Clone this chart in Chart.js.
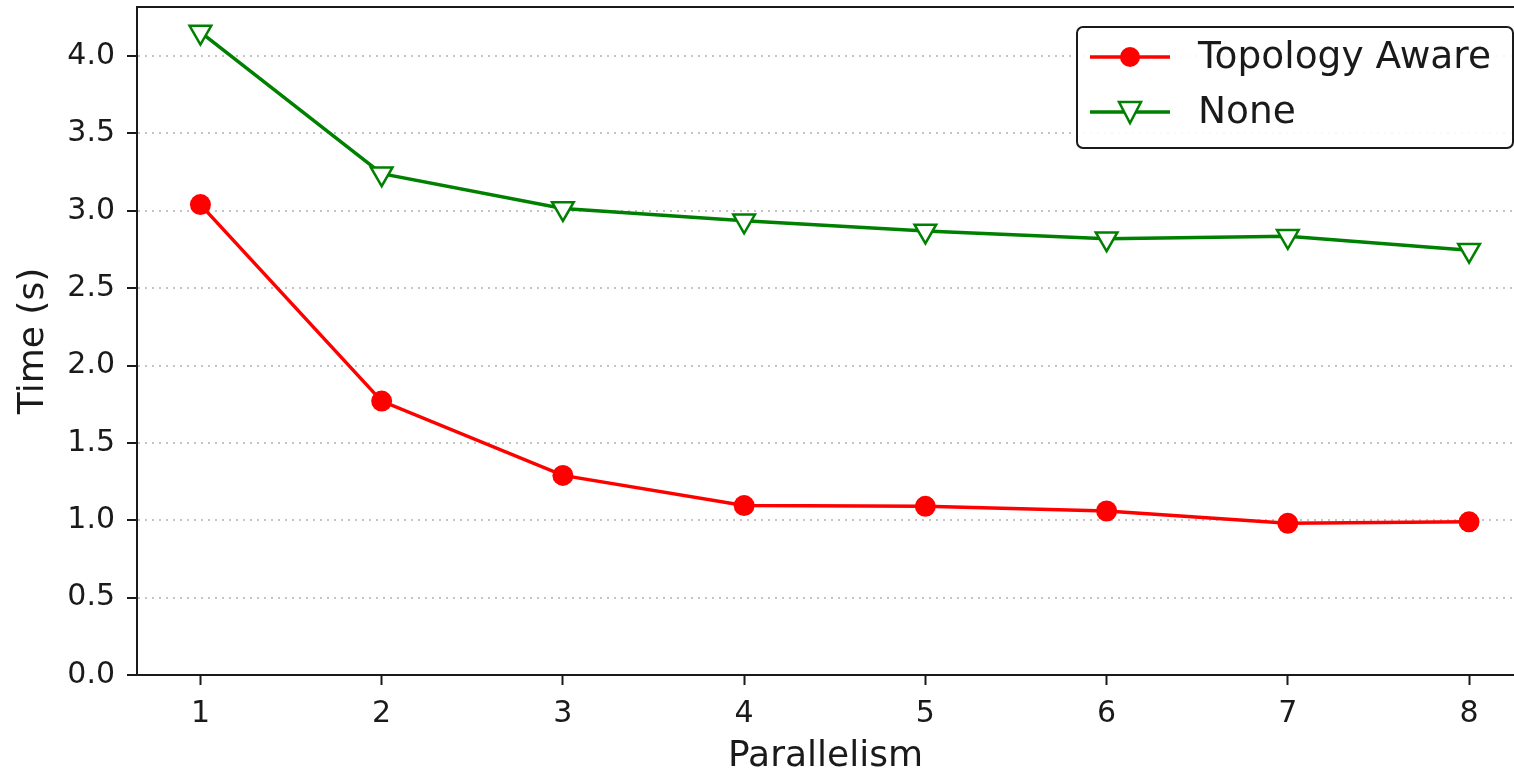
<!DOCTYPE html>
<html>
<head>
<meta charset="utf-8">
<script src="https://cdn.jsdelivr.net/npm/chart.js@4"></script>
<style>
  html, body { margin: 0; padding: 0; background: #fff; overflow: hidden; }
  #wrap { width: 1514px; height: 773px; }
</style>
</head>
<body>
<div id="wrap"><canvas id="chart" width="1514" height="773"></canvas></div>
<script>
// data
const parallelism = [1, 2, 3, 4, 5, 6, 7, 8];
const topologyAware = [3.04, 1.77, 1.29, 1.095, 1.09, 1.06, 0.98, 0.99];
const noneTimes = [4.155, 3.24, 3.015, 2.935, 2.87, 2.82, 2.835, 2.745];
const yTicks = [0, 0.5, 1, 1.5, 2, 2.5, 3, 3.5, 4];

const FONT = "'DejaVu Sans', sans-serif";
const INK = "#1a1a1a";

function points(ys) {
  return parallelism.map((x, i) => ({ x: x, y: ys[i] }));
}

// the axes should not reserve room for half labels at the ends
function noEndPadding(axis) {
  axis.paddingTop = 0;
  axis.paddingBottom = 0;
  axis.paddingLeft = 0;
  axis.paddingRight = 0;
}

// matplotlib style legend box
const legendBox = {
  id: "legendBox",
  afterDraw(chart) {
    const c = chart.ctx;
    c.save();
    const x = 1077, y = 27, w = 436, h = 121, r = 6;
    c.beginPath();
    c.roundRect(x, y, w, h, r);
    c.fillStyle = "rgba(255,255,255,0.9)";
    c.fill();
    c.lineWidth = 2;
    c.strokeStyle = INK;
    c.stroke();

    const rows = [
      { y: 57, color: "#ff0000", label: "Topology Aware", marker: "circle" },
      { y: 112, color: "#008000", label: "None", marker: "tri" }
    ];
    rows.forEach(row => {
      c.beginPath();
      c.moveTo(1090, row.y);
      c.lineTo(1170, row.y);
      c.lineWidth = 3.5;
      c.strokeStyle = row.color;
      c.stroke();
      if (row.marker === "circle") {
        c.beginPath();
        c.arc(1130, row.y, 10, 0, Math.PI * 2);
        c.fillStyle = row.color;
        c.fill();
      } else {
        c.beginPath();
        c.moveTo(1119, row.y - 10);
        c.lineTo(1141, row.y - 10);
        c.lineTo(1130, row.y + 11);
        c.closePath();
        c.fillStyle = "#fff";
        c.fill();
        c.lineWidth = 2.5;
        c.strokeStyle = row.color;
        c.stroke();
      }
      c.fillStyle = INK;
      c.font = "37.5px " + FONT;
      c.textBaseline = "middle";
      c.fillText(row.label, 1198, row.y + 1);
    });
    c.restore();
  }
};

new Chart(document.getElementById("chart"), {
  type: "line",
  data: {
    datasets: [
      {
        label: "Topology Aware",
        data: points(topologyAware),
        borderColor: "#ff0000",
        backgroundColor: "#ff0000",
        borderWidth: 3.5,
        pointStyle: "circle",
        pointRadius: 10.5,
        pointHoverRadius: 10.5,
        pointBorderWidth: 0,
        tension: 0
      },
      {
        label: "None",
        data: points(noneTimes),
        borderColor: "#008000",
        backgroundColor: "#ffffff",
        borderWidth: 3.5,
        pointStyle: "triangle",
        pointRotation: 180,
        pointRadius: 12.5,
        pointHoverRadius: 12.5,
        pointBorderWidth: 2.5,
        tension: 0
      }
    ]
  },
  options: {
    responsive: false,
    animation: false,
    layout: {
      autoPadding: false,
      padding: { top: 7, right: 0, left: 0, bottom: 0 }
    },
    plugins: {
      legend: { display: false },
      tooltip: { enabled: false }
    },
    scales: {
      x: {
        type: "linear",
        min: 0.65,
        max: 8.248,
        afterBuildTicks(axis) {
          axis.ticks = parallelism.map(v => ({ value: v }));
        },
        afterFit(axis) { axis.height = 98; noEndPadding(axis); },
        grid: {
          drawOnChartArea: false,
          tickLength: 10,
          tickColor: INK,
          tickWidth: 2
        },
        border: { color: INK, width: 2 },
        ticks: {
          color: INK,
          font: { family: FONT, size: 30 },
          padding: 11
        },
        title: {
          display: true,
          text: "Parallelism",
          color: INK,
          font: { family: FONT, size: 36 },
          padding: { top: 0, bottom: -5 }
        }
      },
      xTop: {
        type: "linear",
        position: "top",
        min: 0.65,
        max: 8.248,
        afterFit(axis) { axis.height = 0; noEndPadding(axis); },
        grid: { display: false },
        ticks: { display: false },
        border: { display: true, color: INK, width: 2 }
      },
      y: {
        min: 0,
        max: 4.317,
        afterBuildTicks(axis) {
          axis.ticks = yTicks.map(v => ({ value: v }));
        },
        afterFit(axis) { axis.width = 137; noEndPadding(axis); },
        grid: {
          color: "#c4c4c4",
          lineWidth: 2,
          tickLength: 10,
          tickColor: INK,
          tickWidth: 2,
          tickBorderDash: []
        },
        border: { color: INK, width: 2, dash: [2, 5] },
        ticks: {
          color: INK,
          font: { family: FONT, size: 30 },
          padding: 12,
          callback: v => v.toFixed(1)
        },
        title: {
          display: true,
          text: "Time (s)",
          color: INK,
          font: { family: FONT, size: 36 },
          padding: { top: 12, bottom: 0 }
        }
      }
    }
  },
  plugins: [legendBox]
});
</script>
</body>
</html>
